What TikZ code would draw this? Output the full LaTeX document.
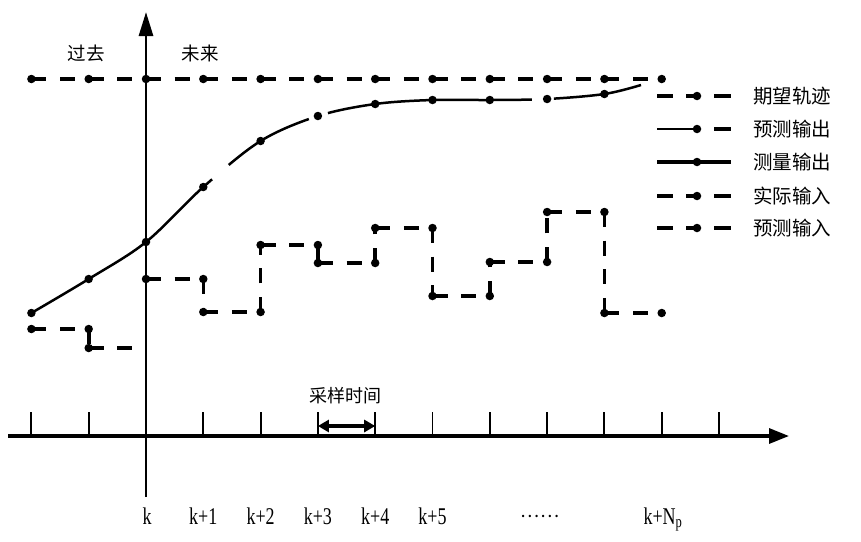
\documentclass[tikz,border=0pt]{standalone}
\usepackage{fontspec}
\setmainfont{Liberation Serif}
\newfontfamily\cjk{Noto Sans CJK SC}
\usetikzlibrary{arrows.meta}
\tikzset{
  dotmark/.style={circle,fill=black,inner sep=0pt,minimum size=8.5pt},
  axisline/.style={line width=2.8pt},
  tickline/.style={line width=1.9pt},
  desline/.style={line width=3.6pt,dash pattern=on 15pt off 13.65pt},
  inpline/.style={line width=3.6pt,dash pattern=on 15pt off 13.65pt},
  predline/.style={line width=2.5pt,dash pattern=on 226pt off 22pt on 93pt off 20pt on 205pt off 22pt on 400pt},
  cjklabel/.style={font=\fontsize{19}{20}\selectfont\cjk,inner sep=0pt},
  legtext/.style={font=\fontsize{19.5}{20}\selectfont\cjk,inner sep=0pt,anchor=west},
  klabel/.style={font=\fontsize{24}{24}\selectfont,inner sep=0pt,anchor=base}
}
\begin{document}
\begin{tikzpicture}[x=1pt,y=-1pt]
\useasboundingbox (0,0) rectangle (861,541);

% axes
\coordinate (ya0) at (146,497);
\coordinate (ya1) at (146,12);
\coordinate (xa0) at (8,436);
\coordinate (xa1) at (789,436);
\draw[axisline,-{Triangle[length=24pt,width=14pt]}] (ya0) -- (ya1);
\draw[axisline,line width=3.2pt,-{Triangle[length=20pt,width=15pt]}] (xa0) -- (xa1);

% ticks
\foreach \i in {-2,-1,1,2,3,4,5,6,7,8,9,10}{
  \coordinate (tb\i) at ({146+57.3*\i},436);
  \coordinate (tt\i) at ({146+57.3*\i},412);
  \draw[tickline] (tb\i) -- (tt\i);
}
% sampling time arrow
\coordinate (sa) at (317.9,426);
\coordinate (sb) at (375.2,426);
\draw[line width=3.8pt,{Triangle[length=11pt,width=12pt]}-{Triangle[length=11pt,width=12pt]}] (sa) -- (sb);
\node[cjklabel,font=\fontsize{18}{20}\selectfont\cjk] (st) at (345,396) {采样时间};

% labels past / future
\node[cjklabel,font=\fontsize{18.5}{20}\selectfont\cjk] (past) at (86,53) {过去};
\node[cjklabel,font=\fontsize{18.5}{20}\selectfont\cjk] (fut) at (200,53) {未来};

% time labels
\node[klabel] (k0) at (147,524) {\scalebox{0.75}[1]{k}};
\node[klabel] (k1) at (203.3,524) {\scalebox{0.75}[1]{k+1}};
\node[klabel] (k2) at (260.6,524) {\scalebox{0.75}[1]{k+2}};
\node[klabel] (k3) at (317.9,524) {\scalebox{0.75}[1]{k+3}};
\node[klabel] (k4) at (375.2,524) {\scalebox{0.75}[1]{k+4}};
\node[klabel] (k5) at (432.5,524) {\scalebox{0.75}[1]{k+5}};
\node[cjklabel,font=\fontsize{18}{20}\selectfont\cjk] (kd) at (540,516) {……};
\node[klabel] (kn) at (663,524) {\scalebox{0.75}[1]{k+N$_{\mathrm p}$}};

% desired trajectory
\foreach \i in {-2,...,9}{
  \coordinate (d\i) at ({146+57.3*\i},79);
}
\draw[desline] (d-2) -- (d9);
\foreach \i in {-2,...,9}{ \node[dotmark] at (d\i) {}; }

% predicted output
\coordinate (o-2) at (31.4,313);
\coordinate (o-1) at (88.7,279);
\coordinate (o0) at (146,242);
\coordinate (o1) at (203.3,187);
\coordinate (o2) at (260.6,141);
\coordinate (o3) at (317.9,116);
\coordinate (o4) at (375.2,104);
\coordinate (o5) at (432.5,100);
\coordinate (o6) at (489.8,100);
\coordinate (o7) at (547.1,99);
\coordinate (o8) at (604.4,94);
\coordinate (oe) at (641,85);
\draw[predline] plot[smooth,tension=0.55] coordinates {(o-2) (o-1) (o0) (o1) (o2) (o3) (o4) (o5) (o6) (o7) (o8) (oe)};
\foreach \i in {-2,...,8}{ \node[dotmark] at (o\i) {}; }

% past input
\coordinate (p1) at (31.4,329);
\coordinate (p2) at (88.7,329);
\coordinate (p3) at (88.7,348);
\coordinate (p4) at (133,348);
\foreach \a/\b in {p1/p2,p2/p3,p3/p4}{ \draw[inpline] (\a) -- (\b); }
\foreach \a in {p1,p2,p3}{ \node[dotmark] at (\a) {}; }

% future input
\coordinate (u1) at (146,279);
\coordinate (u2) at (203.3,279);
\coordinate (u3) at (203.3,312);
\coordinate (u4) at (260.6,312);
\coordinate (u5) at (260.6,245);
\coordinate (u6) at (317.9,245);
\coordinate (u7) at (317.9,263);
\coordinate (u8) at (375.2,263);
\coordinate (u9) at (375.2,228);
\coordinate (u10) at (432.5,228);
\coordinate (u11) at (432.5,296);
\coordinate (u12) at (489.8,296);
\coordinate (u13) at (489.8,262);
\coordinate (u14) at (547.1,262);
\coordinate (u15) at (547.1,212);
\coordinate (u16) at (604.4,212);
\coordinate (u17) at (604.4,313);
\coordinate (u18) at (661.7,313);
\foreach \a/\b in {u1/u2,u2/u3,u3/u4,u4/u5,u5/u6,u6/u7,u7/u8,u8/u9,u9/u10,u10/u11,u11/u12,u12/u13,u13/u14,u14/u15,u15/u16,u16/u17,u17/u18}{
  \draw[inpline] (\a) -- (\b);
}
\foreach \i in {1,...,18}{ \node[dotmark] at (u\i) {}; }

% legend
\foreach \y/\n in {96/l1,129/l2,162/l3,196/l4,228/l5}{
  \coordinate (\n a) at (657,\y);
  \coordinate (\n b) at (673,\y);
  \coordinate (\n c) at (686,\y);
  \coordinate (\n d) at (697,\y);
  \coordinate (\n e) at (714,\y);
  \coordinate (\n f) at (731,\y);
}
% 期望轨迹
\draw[line width=3.6pt] (l1a) -- (l1b) (l1c) -- (l1d) (l1e) -- (l1f);
\node[dotmark] at (l1d) {};
\node[legtext] (t1) at (753,96) {期望轨迹};
% 预测输出
\draw[line width=2.5pt] (l2a) -- (l2d);
\draw[line width=3.6pt] (l2e) -- (l2f);
\node[dotmark] at (l2d) {};
\node[legtext] (t2) at (753,129) {预测输出};
% 测量输出
\draw[line width=4pt] (l3a) -- (l3f);
\node[dotmark] at (l3d) {};
\node[legtext] (t3) at (753,162) {测量输出};
% 实际输入
\draw[line width=3.6pt] (l4a) -- (l4b) (l4c) -- (l4d) (l4e) -- (l4f);
\node[dotmark] at (l4d) {};
\node[legtext] (t4) at (753,196) {实际输入};
% 预测输入
\draw[line width=3.6pt] (l5a) -- (l5b) (l5c) -- (l5d) (l5e) -- (l5f);
\node[dotmark] at (l5d) {};
\node[legtext] (t5) at (753,228) {预测输入};
\end{tikzpicture}
\end{document}
